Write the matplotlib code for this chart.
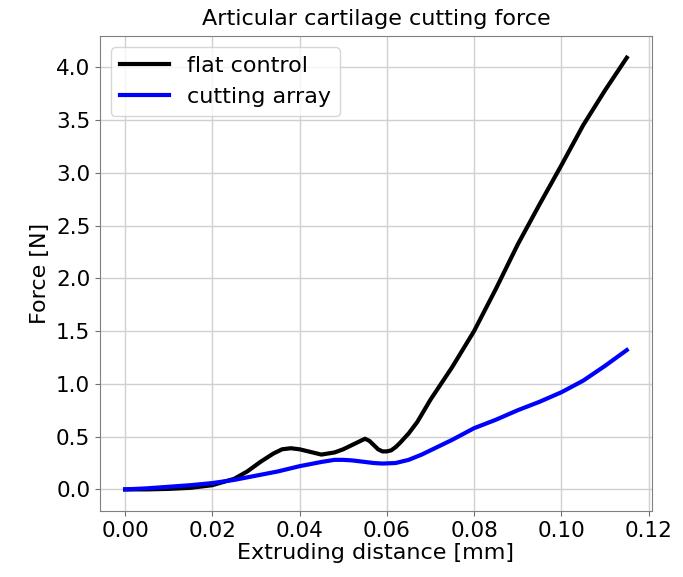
import matplotlib
matplotlib.use("Agg")
import matplotlib.pyplot as plt
import numpy as np

# flat control (black)
x_flat = [0.0, 0.005, 0.010, 0.015, 0.020, 0.025, 0.028, 0.031, 0.034, 0.036, 0.038,
          0.040, 0.042, 0.045, 0.048, 0.050, 0.052, 0.054, 0.055, 0.056, 0.057,
          0.058, 0.059, 0.060, 0.061, 0.062, 0.063, 0.065, 0.067, 0.070, 0.075,
          0.080, 0.085, 0.090, 0.095, 0.100, 0.105, 0.110, 0.115]
y_flat = [0.0, 0.0, 0.005, 0.015, 0.04, 0.10, 0.17, 0.26, 0.34, 0.38, 0.39,
          0.38, 0.36, 0.33, 0.35, 0.38, 0.42, 0.46, 0.48, 0.46, 0.42,
          0.38, 0.36, 0.36, 0.37, 0.40, 0.44, 0.53, 0.64, 0.85, 1.16,
          1.50, 1.90, 2.32, 2.70, 3.07, 3.45, 3.78, 4.09]

# cutting array (blue)
x_arr = [0.0, 0.005, 0.010, 0.015, 0.020, 0.025, 0.030, 0.035, 0.040, 0.045,
         0.048, 0.050, 0.052, 0.055, 0.057, 0.059, 0.062, 0.065, 0.068, 0.070,
         0.075, 0.080, 0.085, 0.090, 0.095, 0.100, 0.105, 0.110, 0.115]
y_arr = [0.0, 0.01, 0.025, 0.04, 0.06, 0.09, 0.13, 0.17, 0.22, 0.26,
         0.28, 0.28, 0.275, 0.26, 0.25, 0.245, 0.25, 0.28, 0.33, 0.37,
         0.47, 0.58, 0.66, 0.75, 0.83, 0.92, 1.03, 1.17, 1.32]

plt.rcParams['font.size'] = 16

fig = plt.figure(figsize=(6.83, 5.77), dpi=100)
ax = fig.add_axes([0.1464, 0.1144, 0.808, 0.823])

ax.plot(x_flat, y_flat, color='black', lw=3, label='flat control')
ax.plot(x_arr, y_arr, color='blue', lw=3, label='cutting array')

ax.set_xticks(np.arange(0, 0.121, 0.02))
ax.set_yticks(np.arange(0, 4.01, 0.5))
ax.tick_params(labelsize=15.5, color='#707070')
ax.grid(True, color='#d0d0d0', lw=1)
ax.set_axisbelow(True)
for s in ax.spines.values():
    s.set_color('#808080')

ax.set_title('Articular cartilage cutting force', fontsize=16, pad=8)
ax.set_xlabel('Extruding distance [mm]', labelpad=2)
ax.set_ylabel('Force [N]')
ax.legend(loc='upper left', handlelength=2.2)

fig.savefig('out.png', dpi=100)
